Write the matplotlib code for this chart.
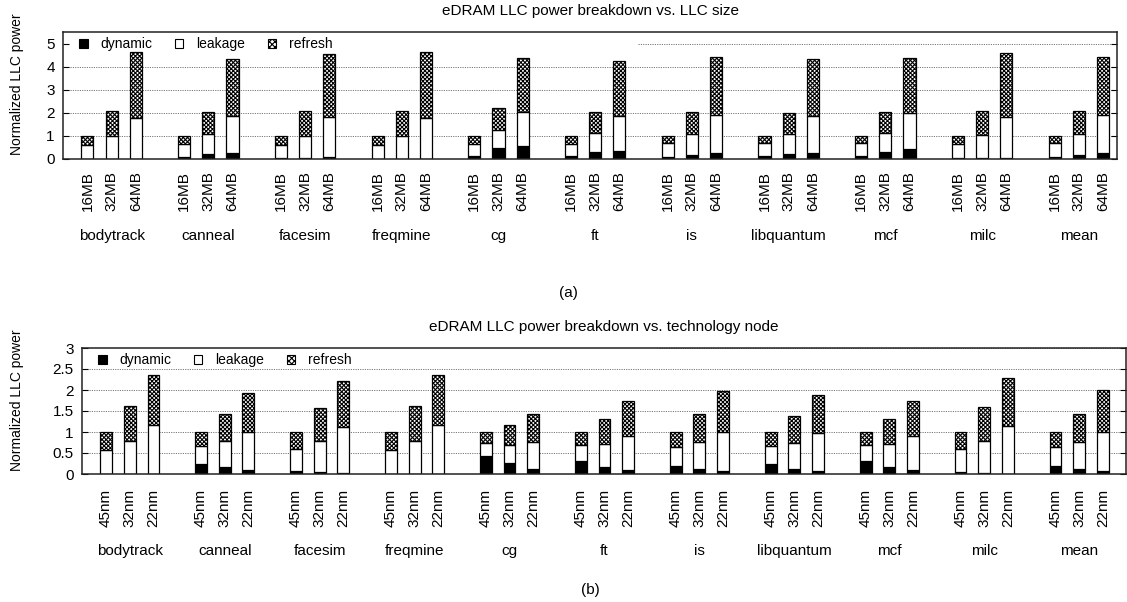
import numpy as np
import matplotlib
matplotlib.use('Agg')
import matplotlib.pyplot as plt
from matplotlib.patches import Patch

plt.rcParams['font.family'] = ['Liberation Sans', 'DejaVu Sans']
plt.rcParams['hatch.linewidth'] = 0.8

benchmarks = ['bodytrack', 'canneal', 'facesim', 'freqmine', 'cg', 'ft',
              'is', 'libquantum', 'mcf', 'milc', 'mean']
sizes = ['16MB', '32MB', '64MB']
nodes = ['45nm', '32nm', '22nm']

# (a) LLC size: one row per benchmark, columns 16MB / 32MB / 64MB
size_dynamic = [[0.01, 0.01, 0.01], [0.09, 0.23, 0.28], [0.03, 0.06, 0.07],
                [0.01, 0.01, 0.01], [0.13, 0.48, 0.55], [0.13, 0.29, 0.33],
                [0.10, 0.16, 0.25], [0.12, 0.20, 0.25], [0.15, 0.29, 0.42],
                [0.03, 0.03, 0.04], [0.10, 0.19, 0.25]]
size_leakage = [[0.60, 0.99, 1.79], [0.55, 0.86, 1.60], [0.58, 0.95, 1.75],
                [0.60, 0.99, 1.79], [0.53, 0.80, 1.51], [0.51, 0.83, 1.54],
                [0.58, 0.93, 1.65], [0.56, 0.89, 1.61], [0.53, 0.86, 1.58],
                [0.61, 1.00, 1.80], [0.58, 0.91, 1.65]]
size_refresh = [[0.39, 1.07, 2.86], [0.36, 0.94, 2.47], [0.39, 1.06, 2.75],
                [0.39, 1.07, 2.86], [0.34, 0.92, 2.33], [0.36, 0.91, 2.39],
                [0.32, 0.96, 2.53], [0.32, 0.93, 2.49], [0.32, 0.88, 2.39],
                [0.36, 1.05, 2.77], [0.32, 0.97, 2.55]]

# (b) technology node: columns 45nm / 32nm / 22nm
node_dynamic = [[0.01, 0.00, 0.00], [0.23, 0.17, 0.09], [0.07, 0.05, 0.02],
                [0.01, 0.00, 0.00], [0.44, 0.26, 0.13], [0.30, 0.17, 0.09],
                [0.20, 0.12, 0.06], [0.24, 0.13, 0.07], [0.31, 0.17, 0.09],
                [0.04, 0.02, 0.01], [0.19, 0.11, 0.06]]
node_leakage = [[0.55, 0.79, 1.17], [0.43, 0.62, 0.90], [0.53, 0.73, 1.09],
                [0.55, 0.79, 1.17], [0.31, 0.43, 0.64], [0.39, 0.55, 0.81],
                [0.44, 0.64, 0.95], [0.42, 0.61, 0.90], [0.39, 0.55, 0.81],
                [0.55, 0.77, 1.13], [0.46, 0.65, 0.95]]
node_refresh = [[0.44, 0.84, 1.19], [0.34, 0.65, 0.93], [0.40, 0.79, 1.11],
                [0.44, 0.84, 1.19], [0.25, 0.48, 0.67], [0.31, 0.59, 0.83],
                [0.36, 0.68, 0.96], [0.34, 0.64, 0.91], [0.30, 0.58, 0.83],
                [0.41, 0.81, 1.14], [0.35, 0.68, 0.98]]

W, H = 1127, 602
fig = plt.figure(figsize=(W / 100, H / 100), dpi=100)


def px_axes(left, top, right, bottom):
    return fig.add_axes([left / W, 1 - bottom / H, (right - left) / W, (bottom - top) / H])


def draw_panel(ax, dyn, leak, ref, ticklabels, ymax, yticks, ytlabels,
               xmax, title, legend_cut, tickpad, titlepad):
    dyn = np.array(dyn).ravel()
    leak = np.array(leak).ravel()
    ref = np.array(ref).ravel()
    x = np.array([g * 4 + i for g in range(len(benchmarks)) for i in range(3)])

    # grid lines behind the bars, the top one interrupted by the key
    for y in yticks[1:]:
        xmin = legend_cut if y == yticks[-1] else 0
        ax.axhline(y, xmin=xmin, color='#777777', lw=0.7,
                   linestyle=(0, (1.2, 1.2)), zorder=0.5)

    ax.bar(x, dyn, 0.5, color='black', edgecolor='black', lw=0.9, zorder=2)
    ax.bar(x, leak, 0.5, bottom=dyn, color='white', edgecolor='black', lw=0.9, zorder=2)
    ax.bar(x, ref, 0.5, bottom=dyn + leak, color='white', edgecolor='black',
           hatch='xxxxxxxx', lw=0.9, zorder=2)

    ax.set_xlim(-1.01, xmax)
    ax.set_ylim(0, ymax)
    ax.set_yticks(yticks)
    ax.set_yticklabels(ytlabels, fontsize=11)
    ax.set_xticks(x)
    ax.set_xticklabels(ticklabels * len(benchmarks), rotation=90, fontsize=11)
    ax.tick_params(axis='x', length=0, pad=tickpad)
    ax.tick_params(axis='y', direction='in', length=4, width=0.8, pad=6,
                   right=True)
    for s in ax.spines.values():
        s.set_linewidth(1.1)
        s.set_color('#222222')

    ax.set_title(title, fontsize=11, pad=titlepad)

    handles = [Patch(facecolor='black', edgecolor='black', lw=0.8),
               Patch(facecolor='white', edgecolor='black', lw=0.8),
               Patch(facecolor='white', edgecolor='black', hatch='xxxxxx', lw=0.8)]
    ax.legend(handles, ['dynamic', 'leakage', 'refresh'], ncol=3,
              loc='upper left', bbox_to_anchor=(0.005, 1.045), frameon=False,
              fontsize=10, handlelength=0.6, handleheight=0.6,
              handletextpad=0.9, columnspacing=1.65, borderaxespad=0.4)
    return x


ax1 = px_axes(63, 32, 1117, 159)
x1 = draw_panel(ax1, size_dynamic, size_leakage, size_refresh, sizes,
                5.52, [0, 1, 2, 3, 4, 5], ['0', '1', '2', '3', '4', '5'],
                42.58, 'eDRAM LLC power breakdown vs. LLC size', 0.546, 8.5, 12)

ax2 = px_axes(82, 348, 1126, 474)
x2 = draw_panel(ax2, node_dynamic, node_leakage, node_refresh, nodes,
                3.0, [0, 0.5, 1, 1.5, 2, 2.5, 3],
                ['0', '0.5', '1', '1.5', '2', '2.5', '3'],
                42.97, 'eDRAM LLC power breakdown vs. technology node', 0.553, 10.5, 12)

# benchmark names under each group
for ax, xs, ypix in [(ax1, x1, 236), (ax2, x2, 551)]:
    for g, name in enumerate(benchmarks):
        xd = xs[g * 3 + 1]
        xf = ax.transData.transform((xd, 0))[0] / W
        fig.text(xf, 1 - ypix / H, name, ha='center', va='center', fontsize=11)

fig.text(568 / W, 1 - 293 / H, '(a)', ha='center', va='center', fontsize=11)
fig.text(590 / W, 1 - 590 / H, '(b)', ha='center', va='center', fontsize=11)

fig.text(17 / W, 1 - 84 / H, 'Normalized LLC power', rotation=90,
         ha='center', va='center', fontsize=10)
fig.text(17 / W, 1 - 400 / H, 'Normalized LLC power', rotation=90,
         ha='center', va='center', fontsize=10)

fig.savefig('out.png', dpi=100)
